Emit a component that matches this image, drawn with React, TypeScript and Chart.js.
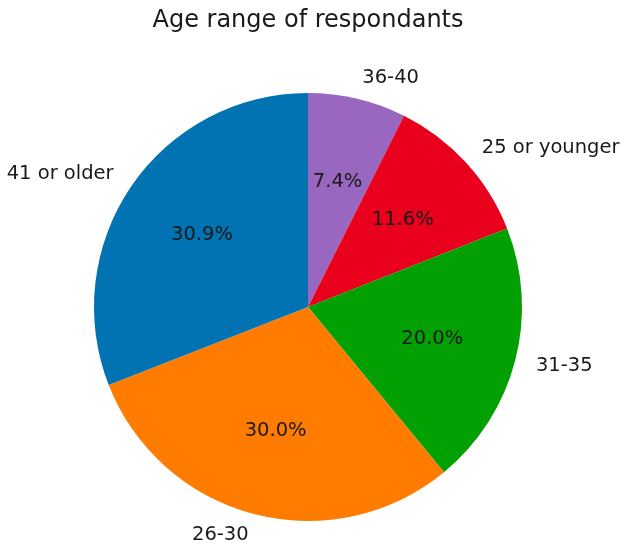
import React, { useEffect, useRef } from "react";
import { Chart, registerables } from "chart.js";

Chart.register(...registerables);

const TITLE = "Age range of respondants";
const categories = ["36-40", "25 or younger", "31-35", "26-30", "41 or older"];
const values = [7.4, 11.6, 20.0, 30.0, 30.9];
const colors = ["#9a67c0", "#e8001c", "#02a002", "#ff7c00", "#0173b2"];

const FONT = "'DejaVu Sans', sans-serif";

const labelPlugin = {
  id: "pieLabels",
  afterDraw(chart: any) {
    const ctx = chart.ctx;
    const meta = chart.getDatasetMeta(0);
    const data = chart.data.datasets[0].data as number[];
    const total = data.reduce((a, b) => a + b, 0);
    ctx.save();
    ctx.fillStyle = "#1a1a1a";
    ctx.font = `24px ${FONT}`;
    ctx.textAlign = "center";
    ctx.textBaseline = "alphabetic";
    ctx.fillText(TITLE, 308, 27);
    meta.data.forEach((arc: any, i: number) => {
      const p = arc.getProps(["x", "y", "startAngle", "endAngle", "outerRadius"], true);
      const mid = (p.startAngle + p.endAngle) / 2;
      const c = Math.cos(mid);
      const s = Math.sin(mid);
      ctx.font = `19.5px ${FONT}`;
      ctx.textBaseline = "middle";
      const lr = p.outerRadius * 1.1;
      ctx.textAlign = c >= 0 ? "left" : "right";
      ctx.fillText(chart.data.labels[i], p.x + lr * c, p.y + lr * s);
      const pr = p.outerRadius * 0.6;
      ctx.textAlign = "center";
      const pct = ((data[i] / total) * 100).toFixed(1) + "%";
      ctx.fillText(pct, p.x + pr * c, p.y + pr * s);
    });
    ctx.restore();
  },
};

export default function App() {
  const ref = useRef<HTMLCanvasElement>(null);
  useEffect(() => {
    if (!ref.current) return;
    const chart = new Chart(ref.current, {
      type: "pie",
      data: {
        labels: categories,
        datasets: [
          {
            data: values,
            backgroundColor: colors,
            borderWidth: 0,
          },
        ],
      },
      options: {
        responsive: false,
        animation: false,
        layout: { padding: { top: 93, bottom: 26, left: 0, right: 12 } },
        plugins: {
          legend: { display: false },
          tooltip: { enabled: false },
          title: { display: false },
        },
      },
      plugins: [labelPlugin],
    });
    return () => chart.destroy();
  }, []);
  return (
    <div style={{ position: "absolute", left: 0, top: 0, width: 628, height: 547, background: "#fff" }}>
      <canvas ref={ref} width={628} height={547} style={{ display: "block" }} />
    </div>
  );
}
